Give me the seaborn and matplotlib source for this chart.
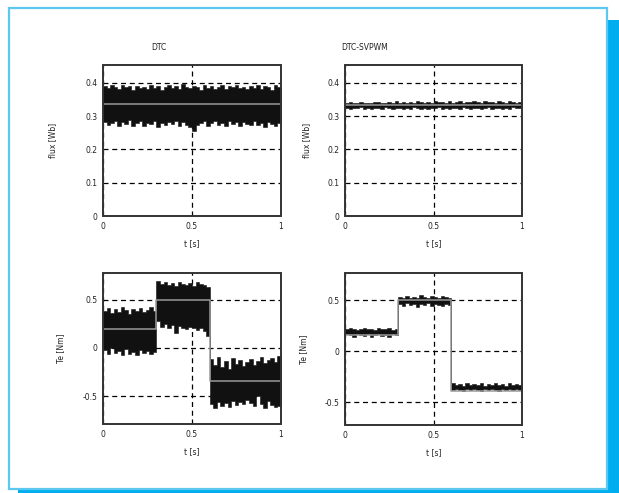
import numpy as np
import pandas as pd
import matplotlib
matplotlib.use("Agg")
import matplotlib.pyplot as plt
from matplotlib.patches import Rectangle
import seaborn as sns

# ---------------- data ----------------
titles = ["DTC", "DTC-SVPWM"]
x_ticks = [0, 0.5, 1]
x_tick_labels = ["0", "0.5", "1"]
flux_ticks = [0, 0.1, 0.2, 0.3, 0.4]
flux_tick_labels = ["0", "0.1", "0.2", "0.3", "0.4"]
te_ticks = [-0.5, 0, 0.5]
te_tick_labels = ["-0.5", "0", "0.5"]

# envelope bins of 0.02 s (50 bins over 1 s)
t_bins = np.linspace(0, 1, 51)

# flux reference and envelopes [Wb]
flux_ref_dtc = 0.335
flux_ref_svpwm = 0.332
flux_dtc_upper = [0.390, 0.383, 0.392, 0.387, 0.380, 0.393, 0.386, 0.389, 0.379, 0.391,
                  0.384, 0.388, 0.381, 0.394, 0.385, 0.390, 0.378, 0.387, 0.392, 0.383,
                  0.389, 0.380, 0.395, 0.386, 0.384, 0.391, 0.388, 0.379, 0.393, 0.385,
                  0.390, 0.382, 0.387, 0.394, 0.381, 0.389, 0.386, 0.392, 0.383, 0.388,
                  0.380, 0.391, 0.385, 0.393, 0.382, 0.389, 0.387, 0.379, 0.392, 0.386]
flux_dtc_lower = [0.283, 0.272, 0.279, 0.286, 0.270, 0.281, 0.275, 0.287, 0.269, 0.278,
                  0.284, 0.271, 0.280, 0.276, 0.285, 0.268, 0.279, 0.273, 0.282, 0.277,
                  0.286, 0.270, 0.281, 0.274, 0.266, 0.255, 0.272, 0.279, 0.285, 0.271,
                  0.278, 0.284, 0.273, 0.280, 0.269, 0.286, 0.275, 0.281, 0.270, 0.283,
                  0.277, 0.272, 0.285, 0.274, 0.280, 0.268, 0.282, 0.276, 0.271, 0.279]
flux_svpwm_upper = [0.339, 0.341, 0.338, 0.340, 0.342, 0.339, 0.340, 0.338, 0.341, 0.343,
                    0.340, 0.339, 0.342, 0.338, 0.344, 0.340, 0.341, 0.339, 0.343, 0.340,
                    0.345, 0.341, 0.339, 0.342, 0.340, 0.346, 0.341, 0.343, 0.340, 0.344,
                    0.339, 0.342, 0.345, 0.340, 0.343, 0.341, 0.346, 0.342, 0.340, 0.344,
                    0.341, 0.343, 0.339, 0.345, 0.342, 0.340, 0.344, 0.341, 0.339, 0.342]
flux_svpwm_lower = [0.324, 0.322, 0.325, 0.323, 0.326, 0.322, 0.324, 0.321, 0.325, 0.323,
                    0.322, 0.326, 0.323, 0.321, 0.324, 0.325, 0.322, 0.324, 0.321, 0.326,
                    0.323, 0.322, 0.325, 0.321, 0.324, 0.323, 0.326, 0.322, 0.324, 0.321,
                    0.325, 0.323, 0.322, 0.326, 0.324, 0.321, 0.323, 0.325, 0.322, 0.324,
                    0.326, 0.322, 0.323, 0.325, 0.321, 0.324, 0.322, 0.326, 0.323, 0.325]

# torque reference steps [Nm]
te_step_times = [0, 0.3, 0.6, 1]
te_ref_dtc = [0.19, 0.5, -0.345]
te_ref_svpwm = [0.16, 0.5, -0.385]

te_dtc_upper = ([0.38, 0.41, 0.36, 0.40, 0.37, 0.42, 0.39, 0.35, 0.40, 0.38, 0.41, 0.37, 0.39, 0.42, 0.38]
                + [0.69, 0.66, 0.68, 0.65, 0.67, 0.64, 0.68, 0.66, 0.65, 0.67, 0.64, 0.68, 0.66, 0.65, 0.63]
                + [-0.12, -0.18, -0.10, -0.20, -0.14, -0.22, -0.11, -0.17, -0.13, -0.19,
                   -0.15, -0.12, -0.18, -0.14, -0.10, -0.16, -0.13, -0.11, -0.15, -0.09])
te_dtc_lower = ([-0.02, -0.06, 0.00, -0.05, -0.03, -0.08, -0.01, -0.06, -0.04, -0.07, -0.02, -0.05, -0.03, -0.06, -0.04]
                + [0.28, 0.22, 0.25, 0.20, 0.24, 0.15, 0.23, 0.21, 0.19, 0.22, 0.20, 0.18, 0.20, 0.17, 0.12]
                + [-0.58, -0.62, -0.56, -0.60, -0.57, -0.61, -0.55, -0.59, -0.56, -0.58,
                   -0.54, -0.57, -0.60, -0.50, -0.58, -0.62, -0.55, -0.59, -0.61, -0.60])
te_svpwm_upper = ([0.22, 0.23, 0.22, 0.21, 0.22, 0.23, 0.22, 0.22, 0.21, 0.23, 0.22, 0.22, 0.23, 0.21, 0.22]
                  + [0.53, 0.52, 0.54, 0.52, 0.53, 0.52, 0.55, 0.53, 0.52, 0.54, 0.53, 0.52, 0.54, 0.53, 0.52]
                  + [-0.31, -0.33, -0.32, -0.34, -0.31, -0.33, -0.32, -0.33, -0.31, -0.34,
                     -0.32, -0.33, -0.31, -0.33, -0.32, -0.34, -0.31, -0.33, -0.32, -0.33])
te_svpwm_lower = ([0.17, 0.16, 0.14, 0.17, 0.16, 0.15, 0.17, 0.14, 0.16, 0.17, 0.15, 0.16, 0.14, 0.17, 0.16]
                  + [0.46, 0.44, 0.47, 0.45, 0.46, 0.43, 0.46, 0.45, 0.47, 0.44, 0.46, 0.45, 0.44, 0.46, 0.45]
                  + [-0.38, -0.37, -0.38, -0.39, -0.37, -0.38, -0.37, -0.38, -0.39, -0.37,
                     -0.38, -0.37, -0.38, -0.39, -0.37, -0.38, -0.37, -0.38, -0.37, -0.38])

# ---------------- figure ----------------
sns.set_style("white")
plt.rcParams["font.family"] = ["DejaVu Sans"]

W, H = 619, 493
fig = plt.figure(figsize=(W / 100, H / 100), dpi=100)
fig.patch.set_facecolor("white")


def px_rect(x0, y0, x1, y1):
    return [x0 / W, 1 - y1 / H, (x1 - x0) / W, (y1 - y0) / H]


# panel frame with drop shadow
shadow = "#00aeef"
fig.patches.append(Rectangle((607 / W, 0), 12 / W, 1 - 20 / H, transform=fig.transFigure,
                             facecolor=shadow, edgecolor="none", zorder=0))
fig.patches.append(Rectangle((18 / W, 0), 601 / W, 5 / H, transform=fig.transFigure,
                             facecolor=shadow, edgecolor="none", zorder=0))
fig.patches.append(Rectangle((8.5 / W, 1 - 488.5 / H), 598 / W, 481 / H, transform=fig.transFigure,
                             facecolor="none", edgecolor="#5cc8ef", linewidth=1.6, zorder=0.5))

axes = {
    "tl": fig.add_axes(px_rect(103, 65, 281, 216)),
    "tr": fig.add_axes(px_rect(345, 65, 522, 216)),
    "bl": fig.add_axes(px_rect(103, 273, 281, 424)),
    "br": fig.add_axes(px_rect(345, 273, 522, 425)),
}

fs = 5.5
txt = "#222222"
grid_kw = dict(color="black", linestyle=(0, (4, 3)), linewidth=0.9)


def style(ax, yticks, ylabels, ylim, ylabel, ylabel_x):
    ax.set_facecolor("white")
    ax.set_xlim(0, 1)
    ax.set_ylim(*ylim)
    ax.set_xticks(x_ticks)
    ax.set_xticklabels(x_tick_labels)
    ax.set_yticks(yticks)
    ax.set_yticklabels(ylabels)
    ax.tick_params(axis="both", labelsize=fs, colors=txt, length=0, pad=4)
    for s in ax.spines.values():
        s.set_visible(False)
    # box around the plotting area
    ax.add_patch(Rectangle((0, 0), 1, 1, transform=ax.transAxes, fill=False,
                           edgecolor="#333333", linewidth=1.4, zorder=10, clip_on=False))
    ax.grid(True, **grid_kw)
    ax.set_axisbelow(True)
    ax.set_xlabel("t [s]", fontsize=fs, color=txt)
    ax.xaxis.set_label_coords(0.5, -0.155)
    ax.set_ylabel(ylabel, fontsize=fs, color=txt)
    ax.yaxis.set_label_coords(ylabel_x, 0.5)


def band(ax, lower, upper):
    lo = list(lower) + [lower[-1]]
    up = list(upper) + [upper[-1]]
    ax.fill_between(t_bins, lo, up, step="post", color="#111111", linewidth=0.4,
                    edgecolor="#111111", zorder=2)


def ref_line(ax, times, values):
    df = pd.DataFrame({"t": times, "v": list(values) + [values[-1]]})
    sns.lineplot(data=df, x="t", y="v", ax=ax, drawstyle="steps-post",
                 color="#9a9a9a", linewidth=1.1, zorder=3)


# flux panels
ax = axes["tl"]
band(ax, flux_dtc_lower, flux_dtc_upper)
ref_line(ax, [0, 1], [flux_ref_dtc])
style(ax, flux_ticks, flux_tick_labels, (0, 0.453), "flux [Wb]", -0.26)

ax = axes["tr"]
band(ax, flux_svpwm_lower, flux_svpwm_upper)
ref_line(ax, [0, 1], [flux_ref_svpwm])
style(ax, flux_ticks, flux_tick_labels, (0, 0.453), "flux [Wb]", -0.19)

# torque panels
ax = axes["bl"]
band(ax, te_dtc_lower, te_dtc_upper)
ref_line(ax, te_step_times, te_ref_dtc)
style(ax, te_ticks, te_tick_labels, (-0.79, 0.775), "Te [Nm]", -0.215)

ax = axes["br"]
band(ax, te_svpwm_lower, te_svpwm_upper)
ref_line(ax, te_step_times, te_ref_svpwm)
style(ax, te_ticks, te_tick_labels, (-0.72, 0.765), "Te [Nm]", -0.21)

for ax in axes.values():
    ax.set_zorder(2)

fig.text(159 / W, 1 - 47 / H, titles[0], fontsize=fs, color=txt, ha="center", va="center")
fig.text(365 / W, 1 - 47 / H, titles[1], fontsize=fs, color=txt, ha="center", va="center")

fig.savefig("out.png", dpi=100)
